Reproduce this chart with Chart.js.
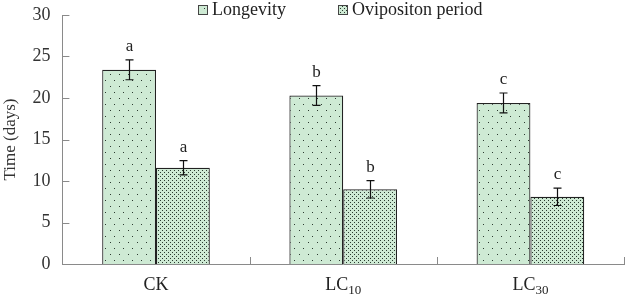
<!DOCTYPE html>
<html>
<head>
<meta charset="utf-8">
<script src="https://cdn.jsdelivr.net/npm/chart.js@4"></script>
<style>
html,body{margin:0;padding:0;background:#fff;}
#wrap{width:628px;height:297px;position:relative;}
</style>
</head>
<body>
<div id="wrap"><canvas id="c" width="628" height="297"></canvas></div>
<script>
const categories = ['CK', 'LC10', 'LC30'];
const seriesNames = ['Longevity', 'Ovipositon period'];
const longevity = [23.4, 20.3, 19.4];
const longevityErr = [1.2, 1.2, 1.2];
const oviposition = [11.6, 9.0, 8.1];
const ovipositionErr = [0.85, 1.05, 1.05];
const longevityLetters = ['a', 'b', 'c'];
const ovipositionLetters = ['a', 'b', 'c'];
const yTicks = [0, 5, 10, 15, 20, 25, 30];

const SERIF = '"Liberation Serif", "Times New Roman", serif';
const FILL = 'rgb(206,234,212)';

function makePattern(w, h, dots) {
  const c = document.createElement('canvas');
  c.width = w; c.height = h;
  const g = c.getContext('2d');
  g.fillStyle = FILL; g.fillRect(0, 0, w, h);
  g.fillStyle = '#2b3a30';
  dots.forEach(d => g.fillRect(d[0], d[1], 1, 1));
  return g.createPattern(c, 'repeat');
}
const ctx = document.getElementById('c').getContext('2d');
const sparse = makePattern(9, 12, [[2, 2], [6, 8]]);
const dense = makePattern(4, 4, [[0, 0], [2, 2]]);

const decor = {
  id: 'decor',
  afterDatasetsDraw(chart) {
    const g = chart.ctx;
    const x = chart.scales.x, y = chart.scales.y;
    const area = chart.chartArea;
    g.save();
    g.strokeStyle = '#8a8a8a'; g.lineWidth = 1;
    yTicks.forEach(v => {
      const py = Math.round(y.getPixelForValue(v)) + 0.5;
      g.beginPath(); g.moveTo(area.left, py); g.lineTo(area.left + 7, py); g.stroke();
    });
    for (let i = 0; i <= categories.length; i++) {
      const px = Math.round(x.getPixelForValue(i - 0.5)) + 0.5;
      g.beginPath(); g.moveTo(px, area.bottom); g.lineTo(px, area.bottom - 7); g.stroke();
    }
    const sets = [[longevityErr, longevityLetters], [ovipositionErr, ovipositionLetters]];
    chart.data.datasets.forEach((ds, di) => {
      const meta = chart.getDatasetMeta(di);
      meta.data.forEach((bar, i) => {
        const v = ds.data[i], e = sets[di][0][i];
        const top = y.getPixelForValue(v + e), bot = y.getPixelForValue(v - e);
        const cx = Math.round(bar.x) + 0.5;
        g.strokeStyle = '#111'; g.lineWidth = 1.2;
        g.beginPath();
        g.moveTo(cx, top); g.lineTo(cx, bot);
        g.moveTo(cx - 4, top); g.lineTo(cx + 4, top);
        g.moveTo(cx - 4, bot); g.lineTo(cx + 4, bot);
        g.stroke();
        g.fillStyle = '#222';
        g.font = '17px ' + SERIF;
        g.textAlign = 'center'; g.textBaseline = 'alphabetic';
        g.fillText(sets[di][1][i], cx, top - 9);
      });
    });
    g.fillStyle = '#222'; g.textBaseline = 'alphabetic';
    categories.forEach((c, i) => {
      const px = x.getPixelForValue(i);
      const m = c.match(/^([A-Za-z]+)(\d*)$/);
      const main = m[1], sub = m[2];
      g.font = '18px ' + SERIF;
      const w1 = g.measureText(main).width;
      g.font = '13px ' + SERIF;
      const w2 = sub ? g.measureText(sub).width : 0;
      const start = px - (w1 + w2) / 2;
      g.textAlign = 'left';
      g.font = '18px ' + SERIF;
      g.fillText(main, start, 290);
      if (sub) { g.font = '13px ' + SERIF; g.fillText(sub, start + w1, 294); }
    });
    const items = [[sparse, seriesNames[0], 198], [dense, seriesNames[1], 338]];
    items.forEach(it => {
      g.fillStyle = it[0];
      g.fillRect(it[2], 5, 9, 9);
      g.strokeStyle = '#444'; g.lineWidth = 1;
      g.strokeRect(it[2] + 0.5, 5.5, 9, 9);
      g.fillStyle = '#222';
      g.font = '18px ' + SERIF;
      g.textAlign = 'left'; g.textBaseline = 'middle';
      g.fillText(it[1], it[2] + 14, 10);
    });
    g.restore();
  }
};

new Chart(ctx, {
  type: 'bar',
  data: {
    labels: categories,
    datasets: [
      { label: seriesNames[0], data: longevity, backgroundColor: sparse, borderColor: '#222', borderWidth: 1.2, borderSkipped: 'bottom' },
      { label: seriesNames[1], data: oviposition, backgroundColor: dense, borderColor: '#222', borderWidth: 1.2, borderSkipped: 'bottom' }
    ]
  },
  options: {
    responsive: false,
    animation: false,
    layout: { padding: { top: 15, right: 4, bottom: 33, left: 0 } },
    plugins: { legend: { display: false }, tooltip: { enabled: false } },
    datasets: { bar: { categoryPercentage: 0.575, barPercentage: 1.0 } },
    scales: {
      x: {
        grid: { display: false, drawTicks: false },
        border: { color: '#8a8a8a', width: 1 },
        ticks: { display: false }
      },
      y: {
        min: 0, max: 30,
        afterBuildTicks(s) { s.ticks = yTicks.map(v => ({ value: v })); },
        afterFit(s) { s.paddingTop = 0; s.paddingBottom = 0; },
        grid: { display: false, drawTicks: false },
        border: { color: '#8a8a8a', width: 1 },
        ticks: { padding: 12, color: '#333', font: { family: SERIF, size: 18 } },
        title: { display: true, text: 'Time (days)', color: '#333', font: { family: SERIF, size: 17 }, padding: { top: 0, bottom: 0 } }
      }
    }
  },
  plugins: [decor]
});
</script>
</body>
</html>
